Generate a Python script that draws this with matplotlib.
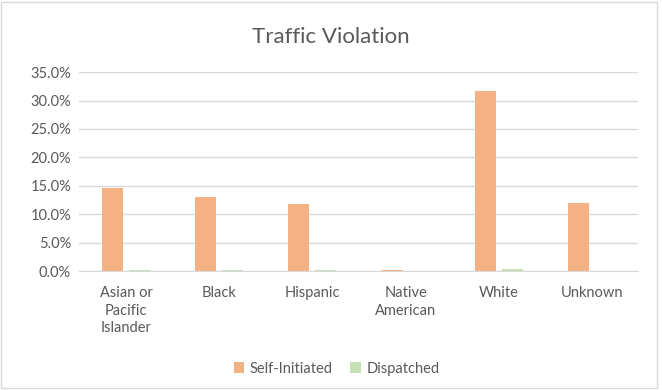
import numpy as np
import matplotlib
matplotlib.use('Agg')
import matplotlib.pyplot as plt
from matplotlib.ticker import PercentFormatter
from matplotlib.patches import Rectangle

categories = ['Asian or\nPacific\nIslander', 'Black', 'Hispanic', 'Native\nAmerican', 'White', 'Unknown']
self_initiated = [0.146, 0.130, 0.118, 0.002, 0.316, 0.120]
dispatched = [0.002, 0.002, 0.002, 0.0, 0.004, 0.0]

plt.rcParams['font.family'] = ['Lato', 'DejaVu Sans']
txt = '#595959'

fig = plt.figure(figsize=(6.62, 3.90), dpi=100)
fig.patches.append(Rectangle((0.002, 0.006), 0.99, 0.99, transform=fig.transFigure,
                             fill=False, edgecolor='#d9d9d9', linewidth=1))
ax = fig.add_axes([0.120, 0.305, 0.8445, 0.51])

x = np.arange(len(categories))
w = 0.226
ax.bar(x - 0.145, self_initiated, w, color='#F4B183', label='Self-Initiated', zorder=3)
ax.bar(x + 0.145, dispatched, w, color='#C5E0B4', label='Dispatched', zorder=3)

ax.set_xlim(-0.5, len(categories) - 0.5)
ax.set_ylim(0, 0.35)
ax.set_yticks(np.arange(0, 0.351, 0.05))
ax.yaxis.set_major_formatter(PercentFormatter(1.0, decimals=1))
ax.set_xticks(x)
ax.set_xticklabels(categories, linespacing=1.3)
ax.grid(axis='y', color='#d9d9d9', linewidth=1, zorder=0)
for s in ['top', 'right', 'left']:
    ax.spines[s].set_visible(False)
ax.spines['bottom'].set_color('#d9d9d9')
ax.tick_params(axis='both', length=0, colors=txt, labelsize=10.5)
ax.tick_params(axis='x', pad=11)
ax.tick_params(axis='y', pad=6)

fig.text(0.5, 0.905, 'Traffic Violation', ha='center', va='center', fontsize=16, color=txt)
ax.legend(loc='center', bbox_to_anchor=(0.46, -0.49), ncol=2, frameon=False,
          fontsize=10.5, labelcolor=txt, handlelength=0.7, handleheight=0.7,
          columnspacing=1.2, handletextpad=0.4)

fig.savefig('out.png', dpi=100)
